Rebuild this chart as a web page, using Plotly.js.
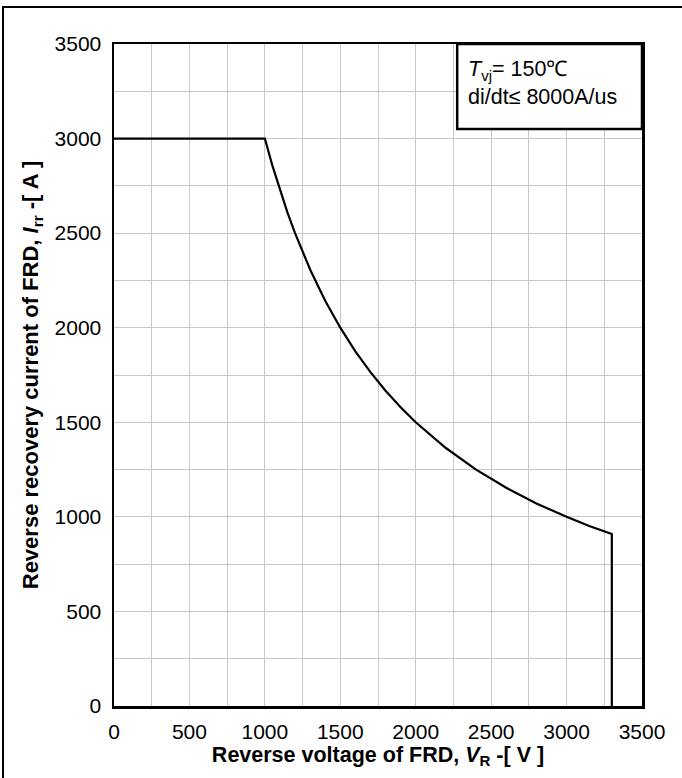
<!DOCTYPE html>
<html>
<head>
<meta charset="utf-8">
<script src="https://cdn.plot.ly/plotly-3.0.1.min.js"></script>
<style>
  html, body { margin: 0; padding: 0; background: #fff; }
  #frame { position: absolute; left: 2px; top: 6px; width: 700px; height: 800px;
           border-left: 2px solid #000; border-top: 2px solid #000; }
  #chart { position: absolute; left: 0; top: 0; width: 682px; height: 778px; }
</style>
</head>
<body>
<div id="frame"></div>
<div id="chart"></div>
<script>
// Reverse voltage V_R [V]
const voltage = [0, 1000, 1050, 1100, 1150, 1200, 1250, 1300, 1400, 1500, 1600, 1700, 1800, 1900, 2000,
                 2200, 2400, 2600, 2800, 3000, 3150, 3300, 3300];
// Reverse recovery current I_rr [A]
const current = [3000, 3000, 2857, 2727, 2609, 2500, 2400, 2308, 2143, 2000, 1875, 1765, 1667, 1579, 1500,
                 1364, 1250, 1154, 1071, 1000, 952, 909, 0];

const xTicks = [0, 500, 1000, 1500, 2000, 2500, 3000, 3500];
const yTicks = [0, 500, 1000, 1500, 2000, 2500, 3000, 3500];

const font = 'Arial, "Liberation Sans", sans-serif';

const trace = {
  x: voltage, y: current, mode: 'lines', type: 'scatter',
  line: { color: '#000', width: 2.2, shape: 'linear' },
  hoverinfo: 'skip'
};

const layout = {
  width: 682, height: 778,
  margin: { l: 114, r: 40, t: 44, b: 72 },
  paper_bgcolor: 'rgba(0,0,0,0)', plot_bgcolor: '#fff',
  showlegend: false,
  font: { family: font, size: 21, color: '#000' },
  xaxis: {
    range: [0, 3500], tickvals: xTicks, ticktext: xTicks.map(String),
    showgrid: true, gridcolor: '#c8c8c8', gridwidth: 1,
    minor: { dtick: 250, showgrid: true, gridcolor: '#c8c8c8', gridwidth: 1 },
    showline: true, linecolor: '#000', linewidth: 2.5, mirror: true,
    ticks: '', zeroline: false, ticklabelstandoff: 5,
    tickfont: { family: font, size: 21 },
    title: { text: '<b>Reverse voltage of FRD, <i>V</i><sub>R</sub> -[ V ]</b>', standoff: 5,
             font: { family: font, size: 21.5 } }
  },
  yaxis: {
    range: [0, 3500], tickvals: yTicks, ticktext: yTicks.map(String),
    showgrid: true, gridcolor: '#c8c8c8', gridwidth: 1,
    minor: { dtick: 250, showgrid: true, gridcolor: '#c8c8c8', gridwidth: 1 },
    showline: true, linecolor: '#000', linewidth: 2.5, mirror: true,
    ticks: '', zeroline: false, ticklabelstandoff: 6,
    tickfont: { family: font, size: 21 },
    title: { text: '<b>Reverse recovery current of FRD, <i>I</i><sub>rr</sub> -[ A ]</b>', standoff: 10,
             font: { family: font, size: 22 } }
  },
  shapes: [{
    type: 'rect', xref: 'paper', yref: 'paper',
    x0: 0.65, x1: 1, y0: 0.8716, y1: 1,
    line: { color: '#000', width: 2.5 }, fillcolor: '#fff', layer: 'above'
  }],
  annotations: [{
    xref: 'paper', yref: 'paper', x: 0.667, y: 0.984, xanchor: 'left', yanchor: 'top',
    align: 'left', showarrow: false,
    text: '<i>T</i><sub>vj</sub>= 150℃<br>di/dt≤ 8000A/us',
    font: { family: font, size: 21.5, color: '#000' }
  }]
};

Plotly.newPlot('chart', [trace], layout, { displayModeBar: false, staticPlot: true });
</script>
</body>
</html>
